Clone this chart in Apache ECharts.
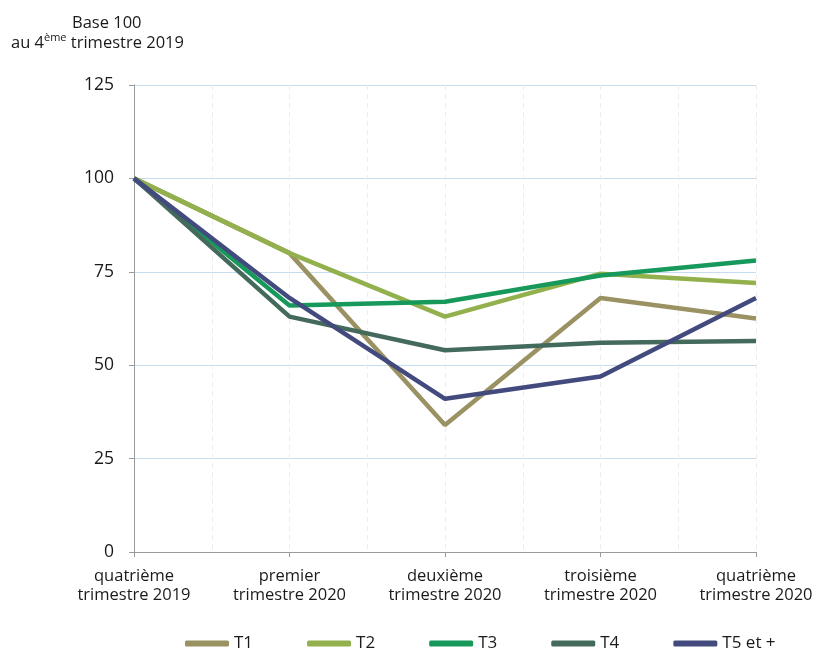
<!DOCTYPE html>
<html>
<head>
<meta charset="utf-8">
<script src="https://cdn.jsdelivr.net/npm/echarts@6/dist/echarts.min.js"></script>
<style>
  html, body { margin: 0; padding: 0; background: #ffffff; }
  #chart { width: 816px; height: 653px; }
</style>
</head>
<body>
<div id="chart"></div>
<script>
// trimestres (axe x)
var quarters = ['quatrième\ntrimestre 2019', 'premier\ntrimestre 2020', 'deuxième\ntrimestre 2020', 'troisième\ntrimestre 2020', 'quatrième\ntrimestre 2020'];
// indices base 100 par taille de logement
var t1 = [100, 80, 34, 68, 62.5];
var t2 = [100, 80, 63, 74.5, 72];
var t3 = [100, 66, 67, 74, 78];
var t4 = [100, 63, 54, 56, 56.5];
var t5 = [100, 68, 41, 47, 68];
var yTicks = [0, 25, 50, 75, 100, 125];

var fontFam = '"Open Sans", Lato, sans-serif';
var chart = echarts.init(document.getElementById('chart'));

function makeSerie(name, data, color) {
    return {
        name: name,
        type: 'line',
        data: data,
        xAxisIndex: 0,
        showSymbol: false,
        symbol: 'none',
        lineStyle: { width: 4.5, color: color },
        itemStyle: { color: color }
    };
}

var titleRich = {
    a: { fontSize: 16.5, color: '#1a1a1a', fontFamily: fontFam, fontWeight: 'normal', lineHeight: 22 },
    sup: { fontSize: 11, color: '#1a1a1a', fontFamily: fontFam, fontWeight: 'normal', verticalAlign: 'top', lineHeight: 22 }
};

var option = {
    backgroundColor: '#ffffff',
    animation: false,
    textStyle: { fontFamily: fontFam },
    title: [{
        text: '{a|Base 100}',
        left: 67,
        top: 7,
        textStyle: { fontWeight: 'normal', rich: titleRich }
    }, {
        text: '{a|au 4}{sup|ème}{a| trimestre 2019}',
        left: 6,
        top: 27,
        textStyle: { fontWeight: 'normal', rich: titleRich }
    }],
    grid: { left: 134, right: 60, top: 85, bottom: 101, containLabel: false },
    legend: {
        top: 630,
        left: 180,
        icon: 'roundRect',
        itemWidth: 44,
        itemHeight: 6,
        itemGap: 54,
        textStyle: { fontSize: 17, color: '#1a1a1a', fontFamily: fontFam },
        data: ['T1', 'T2', 'T3', 'T4', 'T5 et +']
    },
    xAxis: [{
        type: 'category',
        boundaryGap: false,
        data: quarters,
        axisLine: { lineStyle: { color: '#9a9a9a', width: 1 } },
        axisTick: { show: true, length: 5, lineStyle: { color: '#9a9a9a' } },
        axisLabel: { fontSize: 16.5, color: '#1a1a1a', margin: 15, lineHeight: 19, interval: 0 },
        splitLine: { show: false }
    }, {
        // lignes verticales pointillées toutes les demi-périodes
        type: 'value',
        min: 0,
        max: 4,
        interval: 0.5,
        position: 'bottom',
        axisLine: { show: false },
        axisTick: { show: false },
        axisLabel: { show: false },
        splitLine: { show: true, lineStyle: { color: '#ececec', type: [5, 4], width: 1 } }
    }],
    yAxis: {
        type: 'value',
        min: yTicks[0],
        max: yTicks[yTicks.length - 1],
        interval: 25,
        axisLine: { show: true, lineStyle: { color: '#9a9a9a', width: 1 } },
        axisTick: { show: true, length: 5, lineStyle: { color: '#9a9a9a' } },
        axisLabel: { fontSize: 17.5, color: '#1a1a1a', margin: 20 },
        splitLine: { show: true, lineStyle: { color: '#c6dcef', width: 1 } }
    },
    series: [
        makeSerie('T1', t1, '#9a9263'),
        makeSerie('T2', t2, '#92b04c'),
        makeSerie('T3', t3, '#16995a'),
        makeSerie('T4', t4, '#446a5c'),
        makeSerie('T5 et +', t5, '#434a7d')
    ]
};

chart.setOption(option);
</script>
</body>
</html>
